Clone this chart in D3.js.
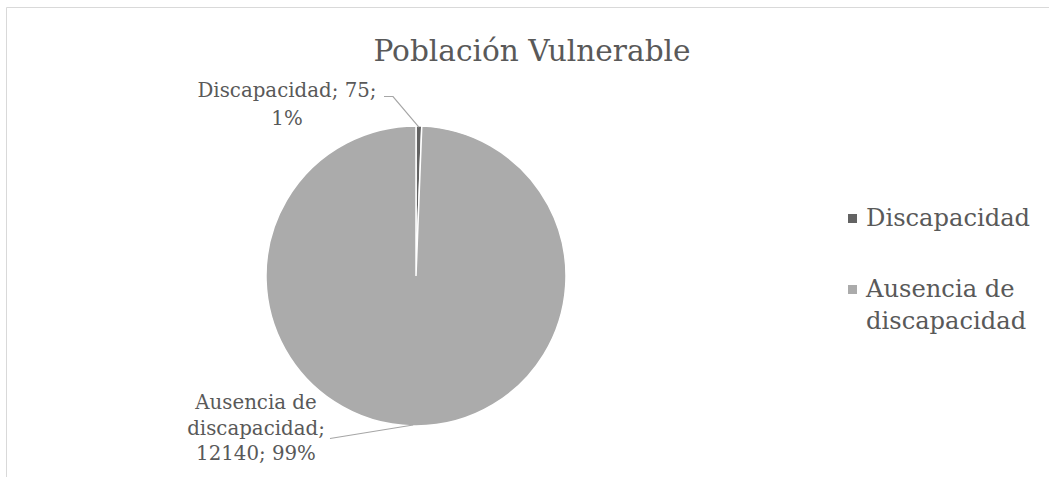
<!DOCTYPE html>
<html><head><meta charset="utf-8">
<script src="https://cdn.jsdelivr.net/npm/d3@7"></script>
<style>body{margin:0;background:#fff}svg{display:block}</style>
</head><body>
<svg id="c" width="1049" height="477"></svg>
<script>
const categories = ["Discapacidad", "Ausencia de discapacidad"];
const values = [75, 12140];
const percents = ["1%", "99%"];
const colors = ["#636363", "#ababab"];
const title = "Población Vulnerable";

const svg = d3.select("#c");
const FONT = "'DejaVu Serif', serif";
const TXT = "#595959";

// chart border
svg.append("path").attr("d","M6.5,1049 V7.5 H1049").attr("fill","none").attr("stroke","#d9d9d9").attr("stroke-width",1);

svg.append("text").attr("x",532).attr("y",61).attr("text-anchor","middle")
  .attr("font-family",FONT).attr("font-size",29.6).attr("fill",TXT).text(title);

const cx = 416, cy = 276, R = 150;
const data = categories.map((c,i)=>({cat:c, value:values[i], pct:percents[i], color:colors[i]}));
const pie = d3.pie().value(d=>d.value).sort(null);
const arcs = pie(data);
const arc = d3.arc().innerRadius(0).outerRadius(R);
const g = svg.append("g").attr("transform",`translate(${cx},${cy})`);
g.selectAll("path").data(arcs).enter().append("path")
  .attr("d",arc).attr("fill",d=>d.data.color).attr("stroke","#fff").attr("stroke-width",1.5);

// labels
const edge = a => { const m=(a.startAngle+a.endAngle)/2; return [cx+Math.sin(m)*(R-1), cy-Math.cos(m)*(R-1)]; };
const lab = [
  {lines:[`${data[0].cat}; ${data[0].value};`, data[0].pct], x:287, y:97, lh:28, lead:[[384,96.5],[393,96.5]]},
  {lines:["Ausencia de","discapacidad;",`${data[1].value}; ${data[1].pct}`], x:256, y:409, lh:25.5, lead:[[330,438.5]]}
];
lab.forEach((l,i)=>{
  const t = svg.append("text").attr("font-family",FONT).attr("font-size",19.8).attr("fill",TXT).attr("text-anchor","middle");
  l.lines.forEach((s,j)=>t.append("tspan").attr("x",l.x).attr("y",l.y+j*l.lh).text(s));
  const pts = l.lead.concat([edge(arcs[i])]);
  svg.append("path").attr("d",d3.line()(pts)).attr("fill","none").attr("stroke","#a6a6a6").attr("stroke-width",1.2);
});

// legend
const leg = [{y:226, lines:["Discapacidad"]},{y:297, lines:["Ausencia de","discapacidad"]}];
leg.forEach((l,i)=>{
  svg.append("rect").attr("x",848).attr("y",l.y-12).attr("width",9).attr("height",9).attr("fill",colors[i]);
  const t = svg.append("text").attr("font-family",FONT).attr("font-size",24.2).attr("fill",TXT);
  l.lines.forEach((s,j)=>t.append("tspan").attr("x",866).attr("y",l.y+j*32).text(s));
});
</script>
</body></html>
